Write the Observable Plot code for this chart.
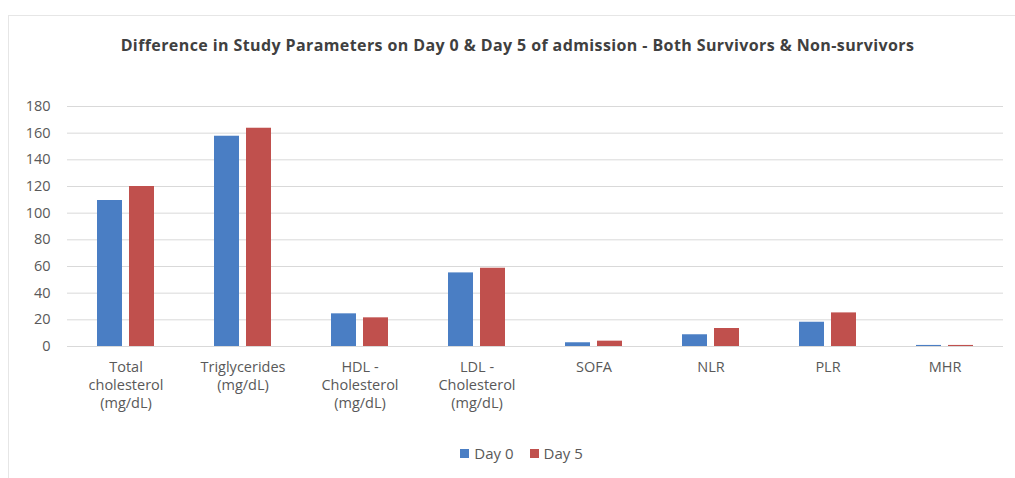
<!DOCTYPE html>
<html><head><meta charset="utf-8">
<script src="https://cdn.jsdelivr.net/npm/d3@7"></script>
<script src="https://cdn.jsdelivr.net/npm/@observablehq/plot@0.6"></script>
<style>
body{margin:0;background:#fff;font-family:"Open Sans",sans-serif;}
#frame{position:absolute;left:8px;top:15px;width:1007px;height:463px;border-left:1px solid #e6e6e6;border-top:1px solid #e6e6e6;}
#title{position:absolute;top:34px;left:10px;width:1015px;text-align:center;font-weight:bold;font-size:16px;letter-spacing:0.4px;color:#404040;}
#chart{position:absolute;top:80px;left:0;}
#legend{position:absolute;top:443px;left:14px;width:1015px;display:flex;justify-content:center;gap:16px;font-size:15px;color:#595959;}
#legend div{display:flex;align-items:center;}
#legend span.sw{display:inline-block;width:9px;height:9px;margin-right:5px;}
</style>
</head><body>
<div id="frame"></div>
<div id="title">Difference in Study Parameters on Day 0 &amp; Day 5 of admission - Both Survivors &amp; Non-survivors</div>
<div id="chart"></div>
<div id="legend"></div>
<script>
const categories = ["Total\ncholesterol\n(mg/dL)", "Triglycerides\n(mg/dL)", "HDL -\nCholesterol\n(mg/dL)", "LDL -\nCholesterol\n(mg/dL)", "SOFA", "NLR", "PLR", "MHR"];
const series = ["Day 0", "Day 5"];
const day0 = [109.5, 157.7, 24.5, 55.2, 2.8, 8.8, 18.2, 0.8];
const day5 = [120, 163.7, 21.5, 58.7, 4, 13.5, 25.2, 0.8];
const yTicks = [0, 20, 40, 60, 80, 100, 120, 140, 160, 180];
const colors = ["#4a7ec4", "#c0504d"];

const data = [];
categories.forEach((c, i) => {
  data.push({cat: c, series: series[0], value: day0[i]});
  data.push({cat: c, series: series[1], value: day5[i]});
});

const chart = Plot.plot({
  width: 1015, height: 350,
  marginTop: 26, marginBottom: 84, marginLeft: 67, marginRight: 12,
  style: {fontFamily: "'Open Sans', sans-serif", fontSize: "14.5px", color: "#595959", background: "transparent"},
  fx: {domain: categories, padding: 0, label: null, axis: null},
  x: {domain: series, axis: null, paddingInner: 0.212, paddingOuter: 0.879},
  y: {domain: [0, 180], label: null, axis: null},
  color: {domain: series, range: colors},
  marks: [
    Plot.ruleY(yTicks, {stroke: "#d9d9d9", strokeWidth: 1}),
    Plot.barY(data, {fx: "cat", x: "series", y: "value", fill: "series"}),
    Plot.axisY({ticks: yTicks, tickSize: 0, tickPadding: 17, fill: "#595959", label: null}),
    Plot.axisFx({anchor: "bottom", tickSize: 0, tickPadding: 13, lineHeight: 1.24, fill: "#595959", label: null})
  ]
});
document.getElementById("chart").appendChild(chart);

const legend = document.getElementById("legend");
series.forEach((s, i) => {
  const item = document.createElement("div");
  item.innerHTML = `<span class="sw" style="background:${colors[i]}"></span>${s}`;
  legend.appendChild(item);
});
</script>
</body></html>
